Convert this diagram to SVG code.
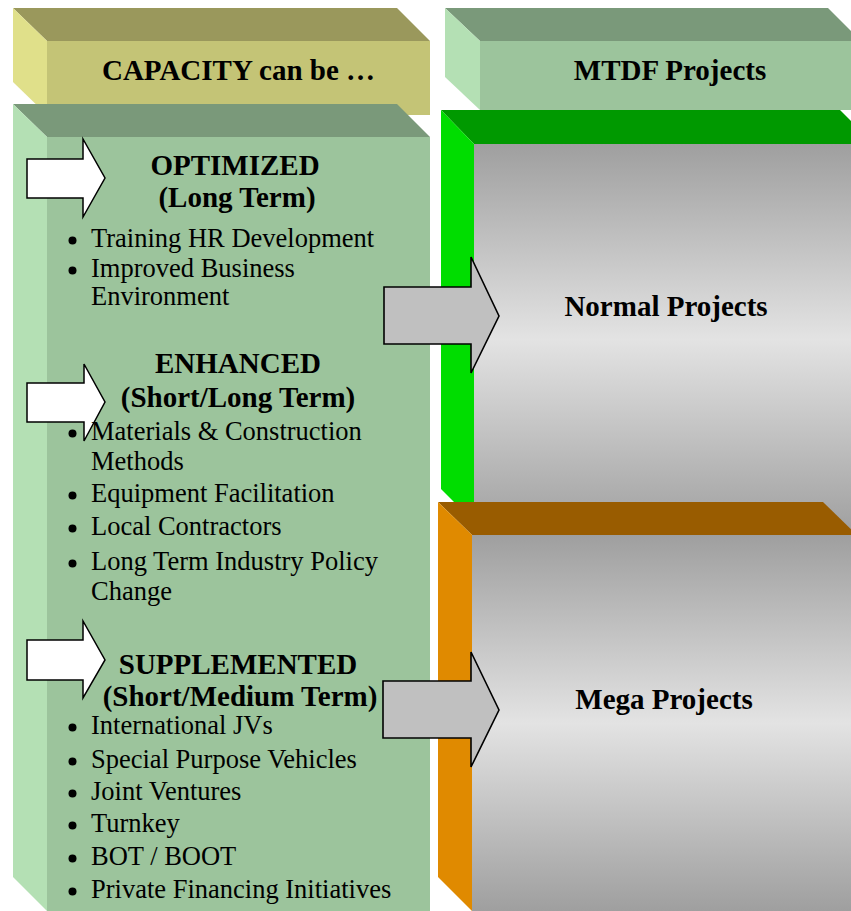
<svg xmlns="http://www.w3.org/2000/svg" width="851" height="911" viewBox="0 0 851 911">
<defs>
<linearGradient id="gray" x1="0" y1="0" x2="0" y2="1">
<stop offset="0" stop-color="#9f9f9f"/>
<stop offset="0.5" stop-color="#e3e3e3"/>
<stop offset="1" stop-color="#9f9f9f"/>
</linearGradient>
<style>
.h{font-family:"Liberation Serif","Times New Roman",serif;font-weight:bold;font-size:29px;fill:#000;text-anchor:middle}
.b{font-family:"Liberation Serif","Times New Roman",serif;font-size:26.5px;fill:#000}
.dot{fill:#000}
.wa{fill:#fff;stroke:#000;stroke-width:1.5;stroke-linejoin:miter}
.ga{fill:#c0c0c0;stroke:#000;stroke-width:1.6;stroke-linejoin:miter}
.gtop{fill:#7a997a}.gfront{fill:#9cc49c}.gside{fill:#b4e0b4}
</style>
</defs>
<rect width="851" height="911" fill="#fff"/>

<g id="capacity-header">
<polygon points="13,8 397,8 430,41 47,41" fill="#9a985c"/>
<polygon points="13,8 47,41 47,115 13,82" fill="#e0e08a"/>
<rect x="47" y="41" width="383" height="74" fill="#c4c476"/>
<text class="h" x="238.5" y="80">CAPACITY can be …</text>
</g>

<g id="mtdf-header">
<polygon points="445,8 828,8 861,41 480,41" class="gtop"/>
<polygon points="445,8 480,41 480,110 445,77" class="gside"/>
<rect x="480" y="41" width="371" height="69" class="gfront"/>
<text class="h" x="670" y="80">MTDF Projects</text>
</g>

<g id="normal-projects">
<polygon points="441,110 840,110 874,144 474,144" fill="#009900"/>
<polygon points="441,110 474,144 474,522 441,489" fill="#00dd00"/>
<rect x="474" y="144" width="377" height="391" fill="url(#gray)"/>
<text class="h" x="666" y="316">Normal Projects</text>
</g>

<g id="mega-projects">
<polygon points="438,502 823,502 857,535 472,535" fill="#995c00"/>
<polygon points="438,502 472,535 472,911 438,877" fill="#e08a00"/>
<rect x="472" y="535" width="379" height="376" fill="url(#gray)"/>
<text class="h" x="664" y="709">Mega Projects</text>
</g>

<g id="capacity-options">
<polygon points="13,104 397,104 430,137 47,137" class="gtop"/>
<polygon points="13,104 47,137 47,911 13,877" class="gside"/>
<rect x="47" y="137" width="383" height="774" class="gfront"/>
<polygon class="wa" points="27,159 83,159 83,139 105,178 83,217 83,198 27,198"/>
<polygon class="wa" points="27,383 84,383 84,364 105,402 84,441 84,422 27,422"/>
<polygon class="wa" points="27,640 83,640 83,621 105,660 83,698 83,680 27,680"/>

<text class="h" x="235" y="175">OPTIMIZED</text>
<text class="h" x="237" y="207">(Long Term)</text>
<circle class="dot" cx="72.5" cy="240.5" r="4"/><text class="b" x="91" y="247">Training HR Development</text>
<circle class="dot" cx="72.5" cy="270.5" r="4"/><text class="b" x="91" y="277">Improved Business</text>
<text class="b" x="91" y="305">Environment</text>

<text class="h" x="238" y="373">ENHANCED</text>
<text class="h" x="238" y="407">(Short/Long Term)</text>
<circle class="dot" cx="72.5" cy="433.5" r="4"/><text class="b" x="91" y="440">Materials &amp; Construction</text>
<text class="b" x="91" y="470">Methods</text>
<circle class="dot" cx="72.5" cy="495.5" r="4"/><text class="b" x="91" y="502">Equipment Facilitation</text>
<circle class="dot" cx="72.5" cy="528.5" r="4"/><text class="b" x="91" y="535">Local Contractors</text>
<circle class="dot" cx="72.5" cy="563.5" r="4"/><text class="b" x="91" y="570">Long Term Industry Policy</text>
<text class="b" x="91" y="600">Change</text>

<text class="h" x="238" y="674">SUPPLEMENTED</text>
<text class="h" x="240" y="706">(Short/Medium Term)</text>
<circle class="dot" cx="72.5" cy="727.5" r="4"/><text class="b" x="91" y="734">International JVs</text>
<circle class="dot" cx="72.5" cy="761.5" r="4"/><text class="b" x="91" y="768">Special Purpose Vehicles</text>
<circle class="dot" cx="72.5" cy="793.5" r="4"/><text class="b" x="91" y="800">Joint Ventures</text>
<circle class="dot" cx="72.5" cy="825.5" r="4"/><text class="b" x="91" y="832">Turnkey</text>
<circle class="dot" cx="72.5" cy="858.5" r="4"/><text class="b" x="91" y="865">BOT / BOOT</text>
<circle class="dot" cx="72.5" cy="891.5" r="4"/><text class="b" x="91" y="898">Private Financing Initiatives</text>
</g>

<g id="connectors">
<polygon class="ga" points="384,287 471,287 471,257 499,316 471,373 471,344 384,344"/>
<polygon class="ga" points="383,681 471,681 471,652 499,710 471,767 471,738 383,738"/>
</g>
</svg>
